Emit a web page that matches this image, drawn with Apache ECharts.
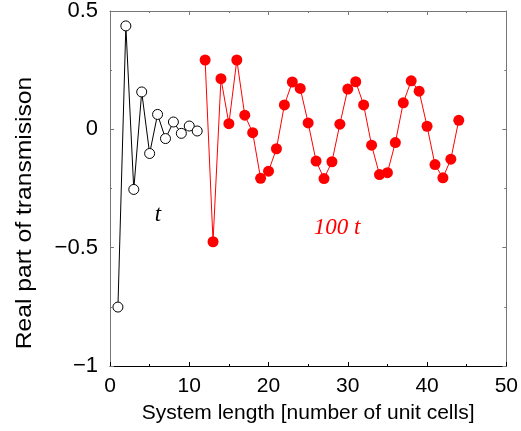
<!DOCTYPE html>
<html>
<head>
<meta charset="utf-8">
<script src="https://cdn.jsdelivr.net/npm/echarts@6/dist/echarts.min.js"></script>
<style>
  html, body { margin: 0; padding: 0; background: #fff; }
  #chart { width: 521px; height: 431px; }
</style>
</head>
<body>
<div id="chart"></div>
<script>
// t (open circles), cells 1..11
const tCells = [1, 2, 3, 4, 5, 6, 7, 8, 9, 10, 11];
const tValues = [-0.751, 0.437, -0.254, 0.158, -0.102, 0.063, -0.039, 0.031, -0.017, 0.014, -0.007];

// 100 t (filled red), cells 12..44
const bigCells = [12, 13, 14, 15, 16, 17, 18, 19, 20, 21, 22, 23, 24, 25, 26, 27, 28,
  29, 30, 31, 32, 33, 34, 35, 36, 37, 38, 39, 40, 41, 42, 43, 44];
const bigValues = [0.293, -0.475, 0.214, 0.024, 0.293, 0.060, -0.014, -0.207, -0.177, -0.082,
  0.103, 0.200, 0.173, 0.027, -0.134, -0.208, -0.137, 0.022, 0.170, 0.201, 0.103, -0.067,
  -0.191, -0.183, -0.056, 0.112, 0.205, 0.161, 0.013, -0.149, -0.205, -0.126, 0.038];

const xTicks = [0, 10, 20, 30, 40, 50];
const yTicks = [-1, -0.5, 0, 0.5];

const minus = v => String(v).replace("-", "\u2212");
const font = "Liberation Sans";

let chart = echarts.init(document.getElementById("chart"));

const frameAxis = (color) => ({
  axisLine: { show: true, onZero: false, lineStyle: { color: color, width: 1 } },
  axisTick: { show: true, inside: true, length: 4, lineStyle: { color: color } },
  minorTick: { show: true, splitNumber: 2, length: 2, lineStyle: { color: color } },
  splitLine: { show: false },
});

const option = {
  animation: false,
  grid: { left: 110, right: 12, top: 9, bottom: 65 },
  xAxis: [
    {
      type: "value", min: xTicks[0], max: xTicks[xTicks.length - 1], interval: 10,
      ...frameAxis("#000"),
      axisLabel: { fontFamily: font, fontSize: 21, color: "#000", margin: 10 },
      name: "System length [number of unit cells]",
      nameLocation: "middle", nameGap: 37,
      nameTextStyle: { fontFamily: font, fontSize: 21, color: "#000" },
    },
    {
      type: "value", position: "top", min: 0, max: 50, interval: 10,
      ...frameAxis("#777"),
      axisLabel: { show: false },
    },
  ],
  yAxis: [
    {
      type: "value", min: yTicks[0], max: yTicks[yTicks.length - 1], interval: 0.5,
      ...frameAxis("#777"),
      axisLabel: { fontFamily: font, fontSize: 22, color: "#000", margin: 12, formatter: minus },
    },
    {
      type: "value", position: "right", min: -1, max: 0.5, interval: 0.5,
      ...frameAxis("#777"),
      axisLabel: { show: false },
    },
  ],
  graphic: [
    {
      type: "text", x: 25, y: 213, rotation: Math.PI / 2, scaleX: 1.12,
      style: { text: "Real part of transmisison", font: "22px " + font, fill: "#000",
        align: "center", verticalAlign: "middle" },
    },
    {
      type: "text", x: 158, y: 215,
      style: { text: "t", font: "italic 23px 'Liberation Serif'", fill: "#000",
        align: "center", verticalAlign: "middle" },
    },
    {
      type: "text", x: 337, y: 228,
      style: { text: "100 t", font: "italic 23px 'Liberation Serif'", fill: "#ff0000",
        align: "center", verticalAlign: "middle" },
    },
  ],
  series: [
    {
      name: "t", type: "line",
      data: tCells.map((c, i) => [c, tValues[i]]),
      symbol: "circle", symbolSize: 10,
      lineStyle: { color: "#000", width: 1 },
      itemStyle: { color: "#fff", borderColor: "#000", borderWidth: 1 },
      z: 3,
    },
    {
      name: "100 t", type: "line",
      data: bigCells.map((c, i) => [c, bigValues[i]]),
      symbol: "circle", symbolSize: 11,
      lineStyle: { color: "#ff0000", width: 1 },
      itemStyle: { color: "#ff0000", borderWidth: 0 },
      z: 3,
    },
  ],
};
chart.setOption(option);
</script>
</body>
</html>
